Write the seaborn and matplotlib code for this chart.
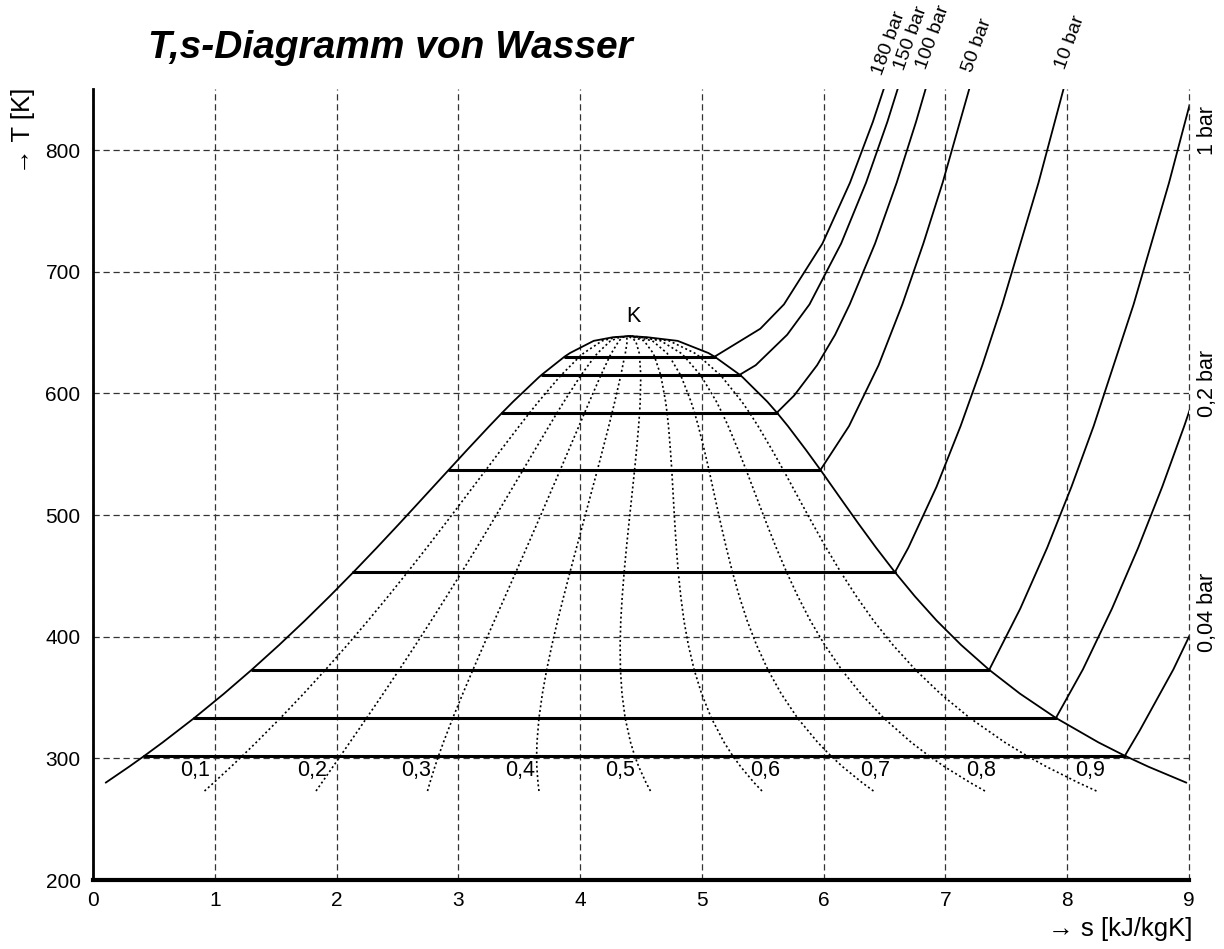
import numpy as np
import pandas as pd
import matplotlib
matplotlib.use("Agg")
import matplotlib.pyplot as plt
import seaborn as sns

sns.set_style("white")
plt.rcParams["font.family"] = ["Liberation Sans", "DejaVu Sans"]
plt.rcParams["text.color"] = "black"
plt.rcParams["axes.edgecolor"] = "black"
plt.rcParams["xtick.color"] = "black"
plt.rcParams["ytick.color"] = "black"

# saturation table: T [K], s' (liquid), s'' (vapour) [kJ/kgK]
sat_T = [273.16, 280.00, 293.15, 302.11, 313.15, 333.21, 353.15, 372.76,
         393.15, 413.15, 433.15, 453.03, 473.15, 493.15, 513.15, 537.09,
         553.15, 573.15, 584.15, 593.15, 613.15, 615.31, 630.17, 633.15,
         643.15, 646.15, 647.10]
sat_s_liq = [0.0000, 0.1040, 0.2965, 0.4224, 0.5724, 0.8320, 1.0754, 1.3026,
             1.5279, 1.7392, 1.9426, 2.1381, 2.3305, 2.5177, 2.7015, 2.9210,
             3.0685, 3.2552, 3.3605, 3.4494, 3.6601, 3.6848, 3.8718, 3.9167,
             4.1112, 4.2700, 4.4070]
sat_s_vap = [9.1556, 8.9787, 8.6661, 8.4734, 8.2557, 7.9072, 7.6122, 7.3594,
             7.1292, 6.9284, 6.7491, 6.5850, 6.4302, 6.2840, 6.1423, 5.9737,
             5.8571, 5.7059, 5.6160, 5.5372, 5.3356, 5.3108, 5.1044, 5.0536,
             4.8012, 4.5500, 4.4070]

# steam quality lines
qualities = [0.1, 0.2, 0.3, 0.4, 0.5, 0.6, 0.7, 0.8, 0.9]
quality_labels = ["0,1", "0,2", "0,3", "0,4", "0,5", "0,6", "0,7", "0,8", "0,9"]

# isobars in the superheated region (T [K], s [kJ/kgK])
iso_180_T = [630.17, 653.15, 673.15, 723.15, 773.15, 823.15, 873.15]
iso_180_s = [5.1044, 5.48, 5.674, 5.990, 6.216, 6.404, 6.569]
iso_150_T = [615.31, 623.15, 648.15, 673.15, 723.15, 773.15, 823.15, 873.15]
iso_150_s = [5.3108, 5.4420, 5.70, 5.8837, 6.1434, 6.3480, 6.5230, 6.6796]
iso_100_T = [584.15, 598.15, 623.15, 648.15, 673.15, 723.15, 773.15, 823.15, 873.15]
iso_100_s = [5.6160, 5.7568, 5.9460, 6.0937, 6.2141, 6.4219, 6.5995, 6.7584, 6.9040]
iso_50_T = [537.09, 573.15, 623.15, 673.15, 723.15, 773.15, 873.15]
iso_50_s = [5.9737, 6.2085, 6.4509, 6.6459, 6.8185, 6.9770, 7.2605]
iso_10_T = [453.03, 473.15, 523.15, 573.15, 623.15, 673.15, 773.15, 873.15]
iso_10_s = [6.5850, 6.6955, 6.9265, 7.1246, 7.3029, 7.4670, 7.7642, 8.0311]
iso_1_T = [372.76, 423.15, 473.15, 523.15, 573.15, 673.15, 773.15, 873.15]
iso_1_s = [7.3594, 7.6148, 7.8356, 8.0346, 8.2172, 8.5452, 8.8362, 9.0999]
iso_02_T = [333.21, 373.15, 423.15, 473.15, 523.15, 573.15, 623.15]
iso_02_s = [7.9072, 8.129, 8.368, 8.583, 8.780, 8.961, 9.13]
iso_004_T = [302.11, 323.15, 373.15, 423.15]
iso_004_s = [8.4734, 8.597, 8.872, 9.111]

isobars = [(iso_180_T, iso_180_s), (iso_150_T, iso_150_s), (iso_100_T, iso_100_s),
           (iso_50_T, iso_50_s), (iso_10_T, iso_10_s), (iso_1_T, iso_1_s),
           (iso_02_T, iso_02_s), (iso_004_T, iso_004_s)]

top_labels = ["180 bar", "150 bar", "100 bar", "50 bar", "10 bar"]
side_labels = ["1 bar", "0,2 bar", "0,04 bar"]

sat = pd.DataFrame({"T": sat_T, "s_liq": sat_s_liq, "s_vap": sat_s_vap})

fig = plt.figure(figsize=(12.24, 9.49), dpi=100)
ax = fig.add_axes([0.076, 0.0727, 0.8954, 0.8333])

# quality lines (lever rule between s' and s'')
for q in qualities:
    s_q = sat["s_liq"] + q * (sat["s_vap"] - sat["s_liq"])
    sns.lineplot(x=s_q, y=sat["T"], sort=False, estimator=None, ax=ax,
                 color="black", lw=1.2, linestyle=(0, (1.2, 1.6)))

# saturation dome
dome = sat[sat["T"] >= 280]
dome_s = list(dome["s_liq"]) + list(dome["s_vap"])[::-1]
dome_T = list(dome["T"]) + list(dome["T"])[::-1]
sns.lineplot(x=dome_s, y=dome_T, sort=False, estimator=None, ax=ax,
             color="black", lw=1.3)

# isobars: horizontal part in the wet region + superheated branch
for iso_T, iso_s in isobars:
    Ts = iso_T[0]
    s_l = np.interp(Ts, sat["T"], sat["s_liq"])
    s_v = np.interp(Ts, sat["T"], sat["s_vap"])
    sns.lineplot(x=[s_l, s_v], y=[Ts, Ts], sort=False, estimator=None, ax=ax,
                 color="black", lw=2.2)
    sns.lineplot(x=iso_s, y=iso_T, sort=False, estimator=None, ax=ax,
                 color="black", lw=1.3)

ax.set_xlim(0, 9)
ax.set_ylim(200, 850)
ax.set_xticks(range(0, 10))
ax.set_yticks(range(200, 801, 100))
ax.tick_params(axis="both", direction="out", length=6, width=1,
               labelsize=15, pad=3, colors="black")
ax.tick_params(axis="x", pad=2)
ax.grid(True, linestyle=(0, (5, 3)), color="#333333", lw=0.9)
for gl in ax.get_xgridlines():
    gl.set_clip_on(False)
ax.set_axisbelow(True)
for side in ["top", "right"]:
    ax.spines[side].set_visible(False)
ax.spines["left"].set_linewidth(2)
ax.spines["bottom"].set_linewidth(3)
ax.set_xlabel("")
ax.set_ylabel("")

# annotations
quality_pos = [0.84, 1.80, 2.65, 3.51, 4.33, 5.52, 6.42, 7.29, 8.19]
for lab, xs in zip(quality_labels, quality_pos):
    ax.text(xs, 290, lab, fontsize=15.5, ha="center", va="center")

ax.text(4.44, 663, "K", fontsize=15.5, ha="center", va="center")

top_pos = [(6.51, 860), (6.69, 864), (6.87, 865), (7.25, 862), (8.01, 865)]
for lab, (xs, ys) in zip(top_labels, top_pos):
    ax.text(xs, ys, lab, fontsize=14, rotation=70, rotation_mode="anchor",
            ha="left", va="bottom", clip_on=False)

side_pos = [816, 608, 420]
for lab, ys in zip(side_labels, side_pos):
    ax.text(9.15, ys, lab, fontsize=15.5, rotation=90, ha="center",
            va="center", clip_on=False)

fig.text(0.319, 0.949, "T,s-Diagramm von Wasser", fontsize=28,
         fontweight="bold", fontstyle="italic", ha="center", va="center")
fig.text(0.019, 0.862, "\u2192 T [K]", fontsize=18.5, rotation=90,
         ha="center", va="center")
fig.text(0.974, 0.021, "\u2192 s [kJ/kgK]", fontsize=18.5, ha="right",
         va="center")

fig.savefig("out.png", dpi=100)
